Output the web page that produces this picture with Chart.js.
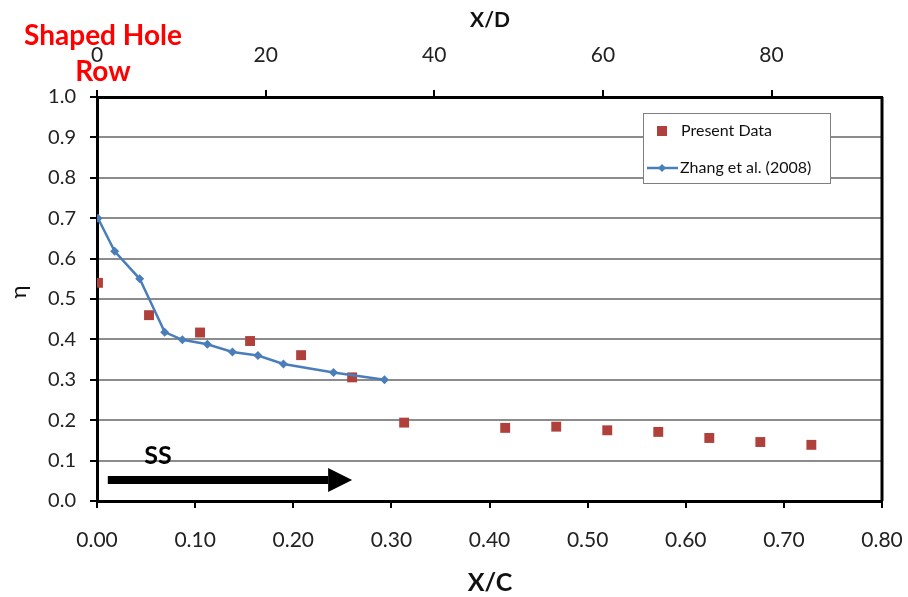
<!DOCTYPE html>
<html>
<head>
<meta charset="utf-8">
<script src="https://cdn.jsdelivr.net/npm/chart.js@4"></script>
<style>
  html, body { margin: 0; padding: 0; background: #fff; }
  #wrap { width: 908px; height: 597px; }
</style>
</head>
<body>
<div id="wrap"><canvas id="myChart"></canvas></div>
<script>
// data
const presentX = [0.001, 0.053, 0.105, 0.156, 0.208, 0.260, 0.313, 0.416, 0.468, 0.520, 0.572, 0.624, 0.676, 0.728];
const presentEta = [0.54, 0.46, 0.417, 0.396, 0.361, 0.306, 0.194, 0.181, 0.184, 0.175, 0.171, 0.156, 0.146, 0.139];

const zhangX = [0.001, 0.018, 0.0435, 0.069, 0.087, 0.1125, 0.138, 0.164, 0.190, 0.241, 0.293];
const zhangEta = [0.70, 0.618, 0.55, 0.418, 0.399, 0.388, 0.369, 0.36, 0.339, 0.318, 0.30];

const xcTicks = [0, 0.1, 0.2, 0.3, 0.4, 0.5, 0.6, 0.7, 0.8];
const xdTicks = [0, 20, 40, 60, 80];
const etaTicks = [0, 0.1, 0.2, 0.3, 0.4, 0.5, 0.6, 0.7, 0.8, 0.9, 1.0];

const XD_MAX = 93.1; // top axis value at x/c = 0.80

const FONT = "Lato, 'Open Sans', sans-serif";
Chart.defaults.font.family = FONT;
Chart.defaults.color = "#222";

const toPoints = (xs, ys) => xs.map((x, i) => ({ x: x, y: ys[i] }));

// fixed axis sizes so the plot box sits where it does in the picture
const fixHorizontal = (h) => (s) => {
    s.height = h;
    s.paddingLeft = 0;
    s.paddingRight = 0;
};

// titles, arrow, legend and the right frame
const extras = {
    id: "extras",
    afterDraw(chart) {
        const ctx = chart.ctx;
        const area = chart.chartArea;
        const sx = chart.scales.x;
        const sy = chart.scales.y;
        ctx.save();

        // right frame line
        ctx.strokeStyle = "#000";
        ctx.lineWidth = 3;
        ctx.beginPath();
        ctx.moveTo(area.right, area.top);
        ctx.lineTo(area.right, area.bottom);
        ctx.stroke();

        ctx.textAlign = "center";
        ctx.textBaseline = "middle";

        // axis titles
        ctx.fillStyle = "#111";
        ctx.font = "bold 21px " + FONT;
        ctx.fillText("X/D", 490, 20);
        ctx.font = "bold 25px " + FONT;
        ctx.fillText("X/C", 490, 583);

        ctx.save();
        ctx.translate(19, 292);
        ctx.rotate(-Math.PI / 2);
        ctx.font = "22px " + FONT;
        ctx.fillText("η", 0, 0);
        ctx.restore();

        // red label
        ctx.fillStyle = "#ff0000";
        ctx.font = "bold 28px " + FONT;
        ctx.fillText("Shaped Hole", 103, 36);
        ctx.fillText("Row", 103, 72);

        // SS arrow
        const ay = sy.getPixelForValue(0.052);
        const ax0 = sx.getPixelForValue(0.011);
        const ax1 = sx.getPixelForValue(0.26);
        ctx.fillStyle = "#000";
        ctx.fillRect(ax0, ay - 4, ax1 - 24 - ax0, 8);
        ctx.beginPath();
        ctx.moveTo(ax1 - 24, ay - 12);
        ctx.lineTo(ax1, ay);
        ctx.lineTo(ax1 - 24, ay + 12);
        ctx.closePath();
        ctx.fill();
        ctx.font = "bold 25px " + FONT;
        ctx.fillText("SS", 158, 456);

        // legend box
        const lx = 643, ly = 113, lw = 187, lh = 70;
        ctx.fillStyle = "#fff";
        ctx.fillRect(lx, ly, lw, lh);
        ctx.strokeStyle = "#7f7f7f";
        ctx.lineWidth = 1;
        ctx.strokeRect(lx + 0.5, ly + 0.5, lw, lh);

        const ds = chart.data.datasets;
        ctx.fillStyle = ds[0].backgroundColor;
        ctx.fillRect(657, 126, 10, 10);

        ctx.strokeStyle = ds[1].borderColor;
        ctx.lineWidth = 2.5;
        ctx.beginPath();
        ctx.moveTo(647, 168);
        ctx.lineTo(678, 168);
        ctx.stroke();
        ctx.fillStyle = ds[1].backgroundColor;
        ctx.beginPath();
        ctx.moveTo(662, 164);
        ctx.lineTo(666, 168);
        ctx.lineTo(662, 172);
        ctx.lineTo(658, 168);
        ctx.closePath();
        ctx.fill();

        ctx.fillStyle = "#111";
        ctx.textAlign = "left";
        ctx.font = "16px " + FONT;
        ctx.fillText("Present Data", 681, 131);
        ctx.fillText("Zhang et al. (2008)", 680, 168);

        ctx.restore();
    }
};

const config = {
    type: "scatter",
    data: {
        datasets: [
            {
                label: "Present Data",
                data: toPoints(presentX, presentEta),
                pointStyle: "rect",
                pointRadius: 7,
                backgroundColor: "#b0403c",
                borderColor: "#b0403c",
                borderWidth: 0,
                showLine: false,
                order: 1,
            },
            {
                label: "Zhang et al. (2008)",
                data: toPoints(zhangX, zhangEta),
                pointStyle: "rectRot",
                pointRadius: 4.5,
                backgroundColor: "#4a7ebb",
                borderColor: "#4a7ebb",
                borderWidth: 2.5,
                pointBorderWidth: 0,
                showLine: true,
                tension: 0,
                order: 0,
            },
        ],
    },
    options: {
        responsive: true,
        maintainAspectRatio: false,
        animation: false,
        layout: { padding: { left: 0, right: 26, top: 0, bottom: 0 } },
        plugins: { legend: { display: false }, tooltip: { enabled: false } },
        scales: {
            x: {
                type: "linear",
                position: "bottom",
                min: 0,
                max: 0.8,
                afterBuildTicks: (s) => { s.ticks = xcTicks.map((v) => ({ value: v })); },
                afterFit: fixHorizontal(96),
                ticks: {
                    padding: 20,
                    font: { size: 21 },
                    color: "#222",
                    maxRotation: 0,
                    callback: (v) => v.toFixed(2),
                },
                grid: { drawOnChartArea: false, tickLength: 7, color: "#000", lineWidth: 2 },
                border: { color: "#000", width: 3 },
            },
            x2: {
                type: "linear",
                position: "top",
                min: 0,
                max: XD_MAX,
                afterBuildTicks: (s) => { s.ticks = xdTicks.map((v) => ({ value: v })); },
                afterFit: fixHorizontal(97),
                ticks: {
                    padding: 22,
                    font: { size: 21 },
                    color: "#222",
                    maxRotation: 0,
                },
                grid: { drawOnChartArea: false, tickLength: 7, color: "#000", lineWidth: 2 },
                border: { color: "#000", width: 3 },
            },
            y: {
                min: 0,
                max: 1,
                afterBuildTicks: (s) => { s.ticks = etaTicks.map((v) => ({ value: v })); },
                afterFit: (s) => { s.width = 97; s.paddingTop = 0; s.paddingBottom = 0; },
                ticks: {
                    padding: 14,
                    font: { size: 20 },
                    color: "#222",
                    callback: (v) => v.toFixed(1),
                },
                grid: { color: "#8c8c8c", lineWidth: 2, tickLength: 7, tickColor: "#000", tickWidth: 2 },
                border: { color: "#000", width: 3 },
            },
        },
    },
    plugins: [extras],
};

const myChart = new Chart(document.querySelector("#myChart"), config);
</script>
</body>
</html>
